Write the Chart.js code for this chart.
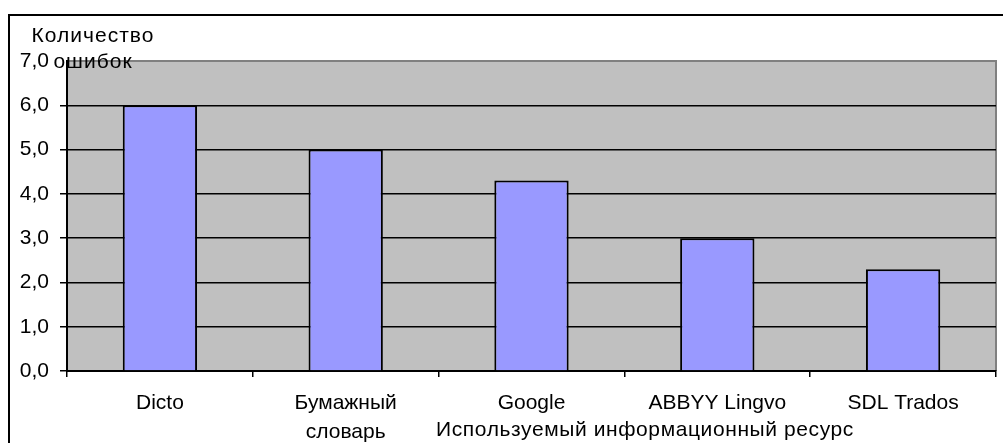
<!DOCTYPE html>
<html>
<head>
<meta charset="utf-8">
<script src="https://cdn.jsdelivr.net/npm/chart.js@4"></script>
<style>
  html, body { margin: 0; padding: 0; background: #ffffff; }
  #wrap { width: 1003px; height: 443px; position: relative; }
</style>
</head>
<body>
<div id="wrap"><canvas id="c" width="1003" height="443"></canvas></div>
<script>
const categories = ['Dicto', ['Бумажный', 'словарь'], 'Google', 'ABBYY Lingvo', 'SDL Trados'];
const errorCounts = [6.0, 5.0, 4.3, 3.0, 2.3];
const yTickValues = [0, 1, 2, 3, 4, 5, 6, 7];
const yTitleLines = ['Количество', 'ошибок'];
const xTitle = 'Используемый информационный ресурс';

const FONT = '"Liberation Sans", Arial, sans-serif';

const framePlugin = {
  id: 'frame',
  beforeDraw(chart) {
    const { ctx, chartArea: a } = chart;
    ctx.save();
    ctx.fillStyle = '#ffffff';
    ctx.fillRect(0, 0, chart.width, chart.height);
    // outer frame (extends beyond visible area)
    ctx.strokeStyle = '#000000';
    ctx.lineWidth = 2;
    ctx.strokeRect(9, 15, 1400, 600);
    // plot background
    ctx.fillStyle = '#c0c0c0';
    ctx.fillRect(a.left, a.top, a.right - a.left, a.bottom - a.top);
    // plot top & right border (gray)
    ctx.strokeStyle = '#808080';
    ctx.lineWidth = 2;
    ctx.beginPath();
    ctx.moveTo(a.left, a.top);
    ctx.lineTo(a.right, a.top);
    ctx.lineTo(a.right, a.bottom);
    ctx.stroke();
    ctx.restore();
  },
  afterDraw(chart) {
    const { ctx, chartArea: a } = chart;
    ctx.save();
    ctx.fillStyle = '#000000';
    ctx.font = '21px ' + FONT;
    ctx.textAlign = 'center';
    ctx.textBaseline = 'alphabetic';
    try { ctx.letterSpacing = '1px'; } catch (e) {}
    ctx.fillText(yTitleLines[0], 93, 42);
    ctx.fillText(yTitleLines[1], 93, 68);
    try { ctx.letterSpacing = '0.6px'; } catch (e) {}
    ctx.textBaseline = 'middle';
    ctx.fillText(xTitle, a.left + 578, 430);
    ctx.restore();
  }
};

new Chart(document.getElementById('c'), {
  type: 'bar',
  data: {
    labels: categories,
    datasets: [{
      data: errorCounts,
      backgroundColor: '#9999ff',
      borderColor: '#000000',
      borderWidth: 2,
      borderSkipped: 'bottom',
      barPercentage: 0.4,
      categoryPercentage: 1.0
    }]
  },
  options: {
    responsive: false,
    animation: false,
    devicePixelRatio: 1,
    layout: { padding: { left: 0, top: 61, right: 7, bottom: 0 } },
    plugins: {
      legend: { display: false },
      tooltip: { enabled: false },
      title: { display: false }
    },
    scales: {
      x: {
        type: 'category',
        offset: true,
        afterFit(scale) { scale.height = 72; },
        grid: {
          offset: true,
          drawOnChartArea: false,
          drawTicks: true,
          tickLength: 6,
          color: '#000000',
          lineWidth: 1.5
        },
        border: { display: true, color: '#000000', width: 2 },
        ticks: {
          color: '#000000',
          font: { family: FONT, size: 21, lineHeight: 1.38 },
          padding: 12,
          maxRotation: 0,
          autoSkip: false
        }
      },
      y: {
        min: 0,
        max: 7,
        afterFit(scale) { scale.width = 67; },
        afterBuildTicks(scale) { scale.ticks = yTickValues.map(v => ({ value: v })); },
        grid: {
          color: ctx => (ctx.tick && ctx.tick.value === 7) ? 'rgba(0,0,0,0)' : '#000000',
          lineWidth: 1.5,
          drawTicks: true,
          tickLength: 7
        },
        border: { display: true, color: '#000000', width: 2 },
        ticks: {
          color: '#000000',
          font: { family: FONT, size: 21 },
          padding: 11,
          callback: v => Number(v).toFixed(1).replace('.', ',')
        }
      }
    }
  },
  plugins: [framePlugin]
});
</script>
</body>
</html>
